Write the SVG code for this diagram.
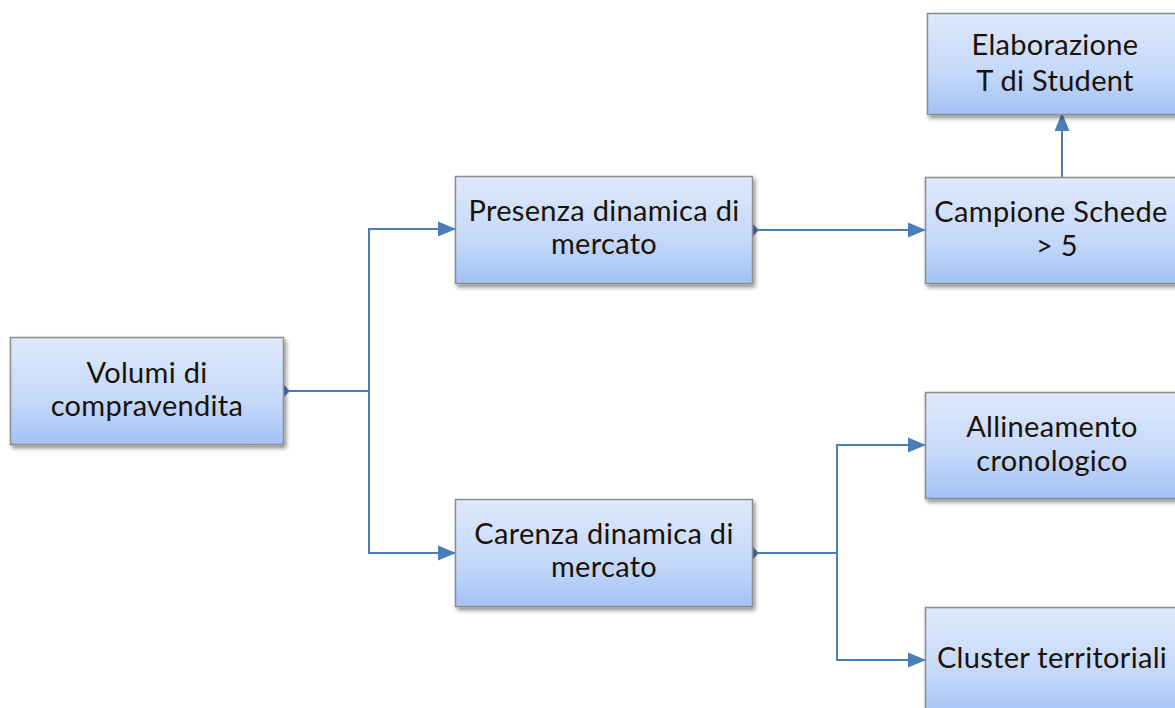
<svg xmlns="http://www.w3.org/2000/svg" width="1175" height="708" viewBox="0 0 1175 708">
<defs>
<linearGradient id="g" x1="0" y1="0" x2="0" y2="1">
<stop offset="0" stop-color="#dfe9fc"/>
<stop offset="0.6" stop-color="#c4d8f9"/>
<stop offset="1" stop-color="#a3c2f5"/>
</linearGradient>
<filter id="sh" x="-10%" y="-10%" width="120%" height="130%">
<feGaussianBlur in="SourceAlpha" stdDeviation="2"/>
<feOffset dx="2" dy="3" result="o"/>
<feComponentTransfer><feFuncA type="linear" slope="0.45"/></feComponentTransfer>
<feMerge><feMergeNode/><feMergeNode in="SourceGraphic"/></feMerge>
</filter>
<marker id="ah" markerWidth="18" markerHeight="16" refX="17" refY="8" orient="auto" markerUnits="userSpaceOnUse" viewBox="0 0 18 16">
<path d="M0,0.5 L18,8 L0,15.5 z" fill="#4a7ebb"/>
</marker>
<marker id="st" markerWidth="8" markerHeight="14" refX="0" refY="7" orient="auto" markerUnits="userSpaceOnUse" viewBox="0 0 8 14">
<path d="M0,0 L7,7 L0,14 z" fill="#4a7ebb"/>
</marker>
</defs>
<style>
.box{fill:url(#g);stroke:#8d8d8d;stroke-width:1.5;filter:url(#sh)}
.t{font-family:Lato,"Open Sans",sans-serif;font-size:29px;letter-spacing:0.3px;fill:#1a1208;text-anchor:middle}
.c{fill:none;stroke:#4a7ebb;stroke-width:2}
</style>
<rect width="1175" height="708" fill="#fff"/>
<g id="connectors">
<path class="c" d="M283,391 H369" marker-start="url(#st)"/>
<path class="c" d="M369,391 V229 H455" marker-end="url(#ah)"/>
<path class="c" d="M369,391 V553 H455" marker-end="url(#ah)"/>
<path class="c" d="M752,230 H925" marker-start="url(#st)" marker-end="url(#ah)"/>
<path class="c" d="M1062,177 V114" marker-end="url(#ah)"/>
<path class="c" d="M752,553 H837" marker-start="url(#st)"/>
<path class="c" d="M837,553 V445 H925" marker-end="url(#ah)"/>
<path class="c" d="M837,553 V660 H925" marker-end="url(#ah)"/>
</g>
<g id="n-volumi">
<rect class="box" x="10.5" y="337.5" width="273" height="107"/>
<text class="t" x="147" y="382.5">Volumi di</text>
<text class="t" x="147" y="415.5">compravendita</text>
</g>
<g id="n-presenza">
<rect class="box" x="455.5" y="176.5" width="297" height="107"/>
<text class="t" x="604" y="221">Presenza dinamica di</text>
<text class="t" x="604" y="254">mercato</text>
</g>
<g id="n-carenza">
<rect class="box" x="455.5" y="499.5" width="297" height="107"/>
<text class="t" x="604" y="544">Carenza dinamica di</text>
<text class="t" x="604" y="577">mercato</text>
</g>
<g id="n-campione">
<rect class="box" x="925.5" y="177.5" width="260" height="106"/>
<text class="t" x="1051" y="222">Campione Schede</text>
<text class="t" x="1057" y="256">&gt;  5</text>
</g>
<g id="n-elaborazione">
<rect class="box" x="927.5" y="13.5" width="260" height="101"/>
<text class="t" x="1055" y="55">Elaborazione</text>
<text class="t" x="1055" y="91">T di Student</text>
</g>
<g id="n-allineamento">
<rect class="box" x="925.5" y="392.5" width="260" height="106"/>
<text class="t" x="1052" y="437">Allineamento</text>
<text class="t" x="1052" y="471">cronologico</text>
</g>
<g id="n-cluster">
<rect class="box" x="925.5" y="607.5" width="260" height="110"/>
<text class="t" x="1052" y="668">Cluster territoriali</text>
</g>
</svg>
